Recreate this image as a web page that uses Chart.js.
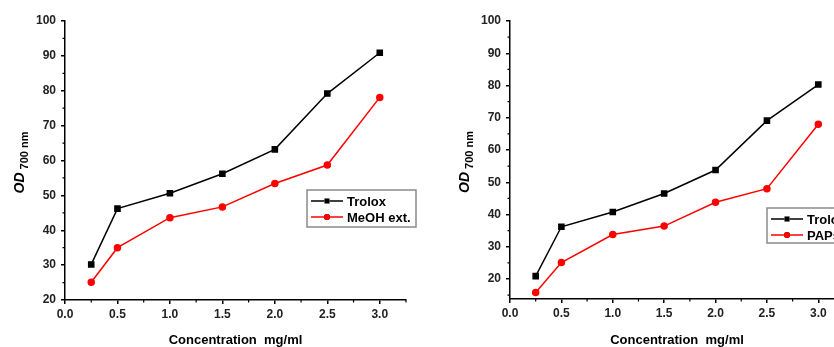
<!DOCTYPE html>
<html>
<head>
<meta charset="utf-8">
<script src="https://cdn.jsdelivr.net/npm/chart.js@4/dist/chart.umd.min.js"></script>
<style>
    html, body { margin: 0; padding: 0; background: #fff; width: 834px; height: 347px; overflow: hidden; }
    #wrapA { position: absolute; left: 0; top: 0; }
    #wrapB { position: absolute; left: 420px; top: 0; }
</style>
</head>
<body>
<div id="wrapA"><canvas id="chartA" width="420" height="347"></canvas></div>
<div id="wrapB"><canvas id="chartB" width="460" height="347"></canvas></div>

<script>

// =====================
// DATA
// =====================

const CONCENTRATIONS = [0.25, 0.5, 1.0, 1.5, 2.0, 2.5, 3.0];

const TROLOX_A = [30.2, 46.2, 50.6, 56.2, 63.2, 79.2, 90.9];
const MEOH_A = [25.1, 35.0, 43.6, 46.7, 53.4, 58.7, 78.1];

const TROLOX_B = [20.9, 36.2, 40.8, 46.5, 53.8, 69.1, 80.3];
const PAPS_B = [15.8, 25.1, 33.8, 36.4, 43.8, 48.0, 68.0];

const X_TICKS = [0.0, 0.5, 1.0, 1.5, 2.0, 2.5, 3.0];
const Y_TICKS = [20, 30, 40, 50, 60, 70, 80, 90, 100];

const FONT = "'Liberation Sans', Arial, sans-serif";


// =====================
// PLUGINS
// =====================

// short minor ticks between the major ones
const minorTicks = {
    id: 'minorTicks',
    afterDraw(chart) {
        const ctx = chart.ctx;
        const xs = chart.scales.x;
        const ys = chart.scales.y;
        const area = chart.chartArea;
        ctx.save();
        ctx.strokeStyle = '#000';
        ctx.lineWidth = 1.2;
        ctx.beginPath();
        for (let v = xs.min; v <= xs.max + 1e-9; v += 0.25) {
            if (Math.abs(v * 2 - Math.round(v * 2)) < 1e-6) continue;
            const px = xs.getPixelForValue(v);
            ctx.moveTo(px, area.bottom);
            ctx.lineTo(px, area.bottom + 2.5);
        }
        for (let v = 15; v <= ys.max; v += 10) {
            if (v < ys.min) continue;
            const py = ys.getPixelForValue(v);
            ctx.moveTo(area.left, py);
            ctx.lineTo(area.left - 2.5, py);
        }
        ctx.stroke();
        ctx.restore();
    }
};

// axis titles: "OD 700 nm" with subscript, "Concentration  mg/ml"
const axisTitles = {
    id: 'axisTitles',
    afterDraw(chart, args, opts) {
        const ctx = chart.ctx;
        const area = chart.chartArea;
        ctx.save();
        ctx.fillStyle = '#000';

        ctx.font = 'bold 13px ' + FONT;
        ctx.textAlign = 'center';
        ctx.textBaseline = 'middle';
        ctx.fillText('Concentration  mg/ml', (area.left + area.right) / 2, opts.xTitleY);

        ctx.translate(opts.yTitleX, (area.top + area.bottom) / 2 + 2);
        ctx.rotate(-Math.PI / 2);
        ctx.textBaseline = 'middle';
        ctx.font = 'italic bold 14px ' + FONT;
        const w1 = ctx.measureText('OD').width;
        ctx.font = 'bold 11px ' + FONT;
        const w2 = ctx.measureText(' 700 nm').width;
        let start = -(w1 + w2) / 2;
        ctx.textAlign = 'left';
        ctx.font = 'italic bold 14px ' + FONT;
        ctx.fillText('OD', start, 0);
        ctx.font = 'bold 11px ' + FONT;
        ctx.fillText(' 700 nm', start + w1, 5);
        ctx.restore();
    }
};

// framed legend inside the plot, line + marker + line
const boxLegend = {
    id: 'boxLegend',
    afterDraw(chart, args, opts) {
        const ctx = chart.ctx;
        ctx.save();
        ctx.fillStyle = '#fff';
        ctx.fillRect(opts.x, opts.y, opts.w, opts.h);
        ctx.strokeStyle = '#8a8a8a';
        ctx.lineWidth = 1.5;
        ctx.strokeRect(opts.x, opts.y, opts.w, opts.h);

        chart.data.datasets.forEach((ds, i) => {
            const cy = opts.y + 11 + i * 16;
            const x0 = opts.x + 4;
            const x1 = x0 + 32;
            ctx.strokeStyle = ds.borderColor;
            ctx.lineWidth = 1.5;
            ctx.beginPath();
            ctx.moveTo(x0, cy);
            ctx.lineTo(x1, cy);
            ctx.stroke();
            Chart.helpers.drawPoint(ctx, {
                pointStyle: ds.pointStyle,
                radius: ds.pointRadius,
                borderWidth: 0
            }, (x0 + x1) / 2, cy);
            ctx.fillStyle = ds.pointBackgroundColor;
            ctx.fill();

            ctx.fillStyle = '#000';
            ctx.font = 'bold 13px ' + FONT;
            ctx.textAlign = 'left';
            ctx.textBaseline = 'middle';
            ctx.fillText(ds.label, x1 + 4, cy + 1);
        });
        ctx.restore();
    }
};


// =====================
// CHART BUILDER
// =====================

function series(label, values, color, style) {
    return {
        label: label,
        data: CONCENTRATIONS.map((c, i) => ({ x: c, y: values[i] })),
        borderColor: color,
        backgroundColor: color,
        pointBackgroundColor: color,
        pointBorderColor: color,
        pointStyle: style,
        pointRadius: style === 'rect' ? 3.6 : 3,
        borderWidth: 1.5,
        tension: 0
    };
}

function buildChart(canvasId, datasets, cfg) {

    const axisCommon = {
        type: 'linear',
        grid: {
            drawOnChartArea: false,
            drawTicks: true,
            tickLength: 4,
            color: '#000',
            lineWidth: 1.5
        },
        border: { display: true, color: '#000', width: 1.5 }
    };

    return new Chart(document.getElementById(canvasId), {
        type: 'line',
        data: { datasets: datasets },
        options: {
            responsive: false,
            maintainAspectRatio: false,
            animation: false,
            layout: {
                padding: { left: 0, right: cfg.padRight, top: 21, bottom: 0 }
            },
            plugins: {
                legend: { display: false },
                tooltip: { enabled: false },
                axisTitles: { xTitleY: 340, yTitleX: cfg.yTitleX },
                boxLegend: cfg.legend
            },
            scales: {
                x: Object.assign({}, axisCommon, {
                    min: 0,
                    max: 3.25,
                    afterBuildTicks: s => { s.ticks = X_TICKS.map(v => ({ value: v })); },
                    afterFit: s => { s.height = cfg.xHeight; },
                    ticks: {
                        color: '#222',
                        padding: 3,
                        maxRotation: 0,
                        autoSkip: false,
                        font: { family: FONT, size: 12, weight: 'bold' },
                        callback: v => v.toFixed(1)
                    }
                }),
                y: Object.assign({}, axisCommon, {
                    min: cfg.yMin,
                    max: 100,
                    afterBuildTicks: s => { s.ticks = Y_TICKS.map(v => ({ value: v })); },
                    afterFit: s => { s.width = cfg.yWidth; },
                    ticks: {
                        color: '#222',
                        padding: 5,
                        font: { family: FONT, size: 12, weight: 'bold' }
                    }
                })
            }
        },
        plugins: [minorTicks, axisTitles, boxLegend]
    });
}


// =====================
// CHARTS
// =====================

buildChart('chartA', [
    series('Trolox', TROLOX_A, '#000000', 'rect'),
    series('MeOH ext.', MEOH_A, '#ff0000', 'circle')
], {
    yMin: 20,
    yWidth: 65,
    xHeight: 47,
    padRight: 14,
    yTitleX: 20,
    legend: { x: 307, y: 190, w: 109, h: 37 }
});

buildChart('chartB', [
    series('Trolox', TROLOX_B, '#000000', 'rect'),
    series('PAPs', PAPS_B, '#ff0000', 'circle')
], {
    yMin: 13.8,
    yWidth: 90,
    xHeight: 48,
    padRight: 36,
    yTitleX: 45,
    legend: { x: 347, y: 208, w: 100, h: 35 }
});

</script>
</body>
</html>
